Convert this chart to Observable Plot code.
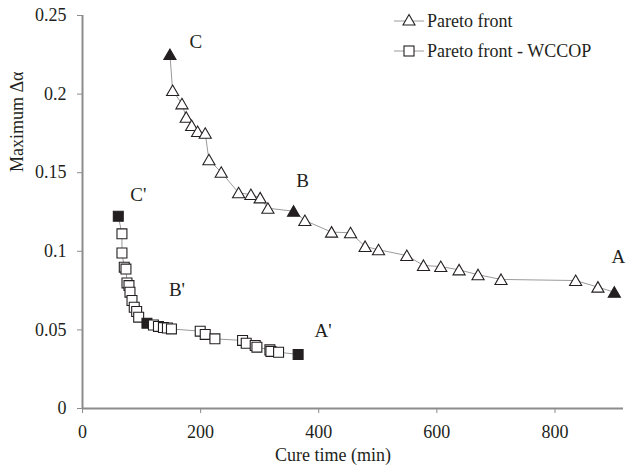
<!DOCTYPE html>
<html>
<head>
<meta charset="utf-8">
<script src="https://cdn.jsdelivr.net/npm/d3@7"></script>
<script src="https://cdn.jsdelivr.net/npm/@observablehq/plot@0.6"></script>
<style>
  body { margin: 0; background: #fff; }
  #wrap { position: relative; width: 626px; height: 472px; font-family: "Liberation Serif", "Times New Roman", serif; }
  #wrap svg text { font-family: "Liberation Serif", "Times New Roman", serif !important; }
  #legend { position: absolute; left: 394px; top: 6px; font-size: 18px; color: #231f20; font-family: "Liberation Serif", "Times New Roman", serif; }
  .row { display: flex; align-items: center; height: 30px; }
  .row span { margin-left: 3px; }
</style>
</head>
<body>
<div id="wrap"></div>
<script>
// Pareto front (triangles)
const paretoTime  = [148, 152.6, 168.4, 175.6, 184.8, 194.9, 207.8, 214.1, 234.9, 264.3, 285.1, 300.8, 313.9, 357.4, 376.5, 421.7, 453.8, 478.5, 501.2, 549.1, 577.3, 606.6, 637.6, 669.7, 708.6, 835, 872.7, 900.5];
const paretoDelta = [0.2252, 0.2023, 0.1938, 0.1853, 0.1800, 0.1762, 0.1751, 0.1582, 0.1503, 0.1372, 0.1361, 0.1340, 0.1274, 0.1255, 0.1196, 0.1122, 0.1118, 0.1031, 0.1010, 0.0973, 0.0910, 0.0903, 0.0882, 0.0851, 0.0821, 0.0814, 0.0772, 0.0740];
const paretoKeyIndex = [0, 13, 27];
const paretoKeyLabel = ["C", "B", "A"];

// Pareto front - WCCOP (squares)
const wccopTime  = [60.6, 66.8, 66.8, 70.7, 73.6, 75.3, 78.7, 80.4, 83.8, 87.6, 91.7, 95.1, 109.1, 120.1, 128.6, 137, 143.8, 150.6, 199.3, 207.8, 224.2, 271, 277.2, 292.4, 295.3, 317.3, 319, 332, 365.1];
const wccopDelta = [0.1223, 0.1111, 0.0989, 0.0899, 0.0887, 0.0799, 0.0782, 0.0740, 0.0687, 0.0644, 0.0617, 0.0581, 0.0543, 0.0531, 0.0522, 0.0515, 0.0512, 0.0506, 0.0492, 0.0471, 0.0443, 0.0433, 0.0415, 0.0401, 0.0390, 0.0373, 0.0363, 0.0358, 0.0344];
const wccopKeyIndex = [0, 12, 28];
const wccopKeyLabel = ["C'", "B'", "A'"];

const xTicks = [0, 200, 400, 600, 800];
const yTicks = [0, 0.05, 0.1, 0.15, 0.2, 0.25];
const xLabel = "Cure time (min)";
const yLabel = "Maximum Δα";
const seriesNames = ["Pareto front", "Pareto front - WCCOP"];

const pareto = paretoTime.map((t, i) => ({t, d: paretoDelta[i], key: paretoKeyIndex.includes(i)}));
const wccop = wccopTime.map((t, i) => ({t, d: wccopDelta[i], key: wccopKeyIndex.includes(i)}));
const pKeys = paretoKeyIndex.map((k, j) => ({t: paretoTime[k], d: paretoDelta[k], label: paretoKeyLabel[j]}));
const wKeys = wccopKeyIndex.map((k, j) => ({t: wccopTime[k], d: wccopDelta[k], label: wccopKeyLabel[j]}));

const axisColor = "#8c8c8c";
const ink = "#231f20";
const lineColor = "#9a9a9a";
const font = "Liberation Serif, Times New Roman, serif";

// label offsets (pixels) for the key points
const pOff = [[26, -13], [9, -30], [4, -35]];
const wOff = [[20, -21], [30, -33], [25, -24]];

const labelMarks = [];
pKeys.forEach((k, i) => labelMarks.push(Plot.text([k], {x: "t", y: "d", text: "label", dx: pOff[i][0], dy: pOff[i][1], fontSize: 19, fontFamily: font, fill: ink})));
wKeys.forEach((k, i) => labelMarks.push(Plot.text([k], {x: "t", y: "d", text: "label", dx: wOff[i][0], dy: wOff[i][1], fontSize: 19, fontFamily: font, fill: ink})));

const chart = Plot.plot({
  width: 626,
  height: 472,
  marginLeft: 82,
  marginRight: 3,
  marginTop: 15,
  marginBottom: 64,
  style: {fontFamily: font, fontSize: "18px", color: ink, background: "#fff"},
  x: {domain: [0, 916], ticks: xTicks, tickFormat: d => String(d), label: null, tickSize: 5, tickPadding: 12},
  y: {domain: [0, 0.25], ticks: yTicks, tickFormat: d => String(d), label: null, tickSize: 5, tickPadding: 11},
  marks: [
    Plot.axisX({ticks: xTicks, tickFormat: d => String(d), stroke: axisColor, fill: ink, tickSize: 5, tickPadding: 12, fontSize: 18, fontFamily: font, label: null}),
    Plot.axisY({ticks: yTicks, tickFormat: d => String(d), stroke: axisColor, fill: ink, tickSize: 5, tickPadding: 11, fontSize: 18, fontFamily: font, label: null}),
    Plot.ruleY([0], {stroke: axisColor, strokeWidth: 2}),
    Plot.ruleX([0], {stroke: axisColor, strokeWidth: 2}),
    Plot.line(pareto, {x: "t", y: "d", stroke: lineColor, strokeWidth: 1}),
    Plot.line(wccop, {x: "t", y: "d", stroke: lineColor, strokeWidth: 1}),
    Plot.dot(pareto, {x: "t", y: "d", symbol: "triangle", r: 4.5, dy: 1.5, stroke: ink, strokeWidth: 1.1, fill: d => d.key ? ink : "#fff"}),
    Plot.dot(wccop, {x: "t", y: "d", symbol: "square", r: 5.6, stroke: ink, strokeWidth: 1.1, fill: d => d.key ? ink : "#fff"}),
    ...labelMarks,
    Plot.text([xLabel], {frameAnchor: "bottom", dx: -20, dy: 52, fontSize: 18, fontFamily: font, fill: ink}),
    Plot.text([yLabel], {frameAnchor: "left", rotate: -90, dx: -65, dy: -40, fontSize: 18, fontFamily: font, fill: ink})
  ]
});

const wrap = document.getElementById("wrap");
wrap.appendChild(chart);

// legend overlay
const legend = document.createElement("div");
legend.id = "legend";
const sym = [
  `<svg width="30" height="20"><line x1="0" y1="10" x2="30" y2="10" stroke="${lineColor}"/><path d="M15,3.5 L21,14 L9,14 Z" fill="#fff" stroke="${ink}" stroke-width="1.1"/></svg>`,
  `<svg width="30" height="20"><line x1="0" y1="10" x2="30" y2="10" stroke="${lineColor}"/><rect x="10" y="5" width="10" height="10" fill="#fff" stroke="${ink}" stroke-width="1.1"/></svg>`
];
legend.innerHTML = seriesNames.map((n, i) => `<div class="row">${sym[i]}<span>${n}</span></div>`).join("");
wrap.appendChild(legend);
</script>
</body>
</html>
